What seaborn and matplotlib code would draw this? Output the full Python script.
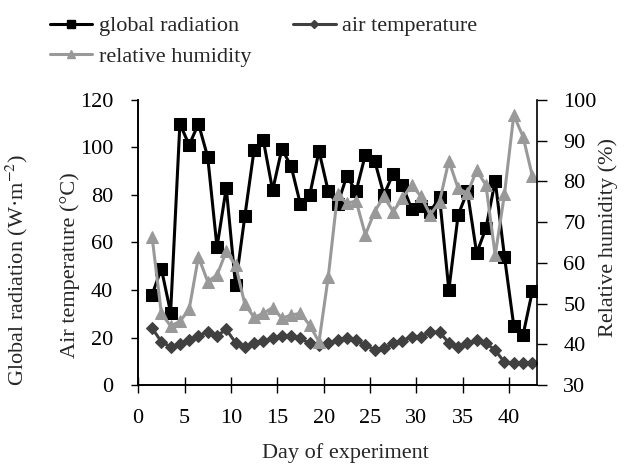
import numpy as np
import pandas as pd
import matplotlib
matplotlib.use("Agg")
import matplotlib.pyplot as plt
from matplotlib.lines import Line2D
import seaborn as sns

# day of experiment (points sit half a day right of the day number)
days = list(range(1, 43))

global_radiation = [38, 49, 30.5, 110, 101, 110, 96, 58, 83, 42, 71, 99, 103, 82, 99.5,
                    92, 76, 80, 98.5, 81.5, 76, 88, 81.5, 97, 94.5, 80, 89, 84, 74, 75.5,
                    73, 79, 40, 71.5, 81.5, 55.5, 66, 86, 54, 25, 21, 39.5]
air_temperature = [24, 18.2, 16.1, 17.4, 18.8, 20.7, 22.3, 20.7, 23.4, 17.8, 16.1, 17.5,
                   18.7, 19.6, 20.6, 20.6, 19.6, 17.5, 17, 17.5, 18.9, 19.9, 18.9, 16.8,
                   14.9, 15.5, 17.5, 18.7, 20.4, 20.4, 22.2, 22.2, 17.8, 16.1, 17.5, 18.9,
                   17.7, 14.6, 9.6, 9.1, 9.3, 9.2]
relative_humidity = [66.4, 47.6, 44.5, 45.6, 48.6, 61.5, 55.4, 57, 62.8, 59.5, 49.9, 46.6,
                     47.6, 49, 46.4, 47.2, 47.6, 44.7, 40.6, 56.6, 76.9, 74.6, 75.2, 66.9,
                     72.6, 76.3, 72.6, 75.9, 79.1, 76.3, 71.8, 75, 85.1, 78.3, 77.1, 82.7,
                     79.1, 61.9, 76.9, 96.3, 91, 81.4]

x_ticks = [0, 5, 10, 15, 20, 25, 30, 35, 40]
left_ticks = [0, 20, 40, 60, 80, 100, 120]
right_ticks = [30, 40, 50, 60, 70, 80, 90, 100]

df = pd.DataFrame({
    "day": np.array(days) + 0.5,
    "rad": global_radiation,
    "temp": air_temperature,
    "rh": relative_humidity,
})

sns.set_style("ticks")
plt.rcParams["font.family"] = ["Liberation Serif", "DejaVu Serif"]
plt.rcParams["mathtext.fontset"] = "stix"
FS = 16

BLACK = "#000000"
DARK = "#404040"
LIGHT = "#999999"

fig = plt.figure(figsize=(6.28, 4.65), dpi=100)
ax = fig.add_axes([0.22, 0.172, 0.635, 0.613])
ax2 = ax.twinx()

sns.lineplot(data=df, x="day", y="rad", ax=ax, color=BLACK, linewidth=2.2,
             marker="s", markersize=8, markeredgecolor=BLACK)
sns.lineplot(data=df, x="day", y="temp", ax=ax, color=DARK, linewidth=2.2,
             marker="D", markersize=6, markeredgecolor=DARK)
sns.lineplot(data=df, x="day", y="rh", ax=ax2, color=LIGHT, linewidth=2.2,
             marker="^", markersize=8, markeredgecolor=LIGHT)

ax.set_xlim(0, 43)
ax.set_ylim(0, 120)
ax2.set_ylim(30, 100)
ax.set_xticks(x_ticks)
ax.set_yticks(left_ticks)
ax2.set_yticks(right_ticks)
ax.set_xlabel("")
ax.set_ylabel("")
ax2.set_ylabel("")

for a in (ax, ax2):
    a.spines["top"].set_visible(False)
    for s in a.spines.values():
        s.set_linewidth(1.2)
        s.set_color("black")
ax.spines["right"].set_visible(False)

ax.tick_params(axis="x", direction="inout", length=12, width=1, pad=11, labelsize=FS, colors="black")
ax.tick_params(axis="y", direction="out", length=5, width=1, pad=13, labelsize=FS, colors="black")
ax2.tick_params(axis="y", direction="out", length=7, width=1, pad=12, labelsize=FS, colors="black")

fig.text(0.027, 0.42, r"Global radiation (W·m$^{-2}$)", rotation=90, ha="center", va="center", fontsize=FS)
fig.text(0.111, 0.43, "Air temperature (°C)", rotation=90, ha="center", va="center", fontsize=FS)
fig.text(0.968, 0.49, "Relative humidity (%)", rotation=90, ha="center", va="center", fontsize=FS)
fig.text(0.55, 0.026, "Day of experiment", ha="center", va="center", fontsize=FS)

handles = [
    Line2D([], [], color=BLACK, linewidth=2.2, marker="s", markersize=6),
    Line2D([], [], color=LIGHT, linewidth=2.2, marker="^", markersize=6),
    Line2D([], [], color=DARK, linewidth=2.2, marker="D", markersize=4),
]
labels = ["global radiation", "relative humidity", "air temperature"]
fig.legend(handles, labels, loc="upper left", bbox_to_anchor=(0.065, 0.985), ncol=2,
           frameon=False, fontsize=FS, handlelength=1.9, handletextpad=0.3,
           columnspacing=1.9, labelspacing=0.45, borderaxespad=0)

fig.savefig("out.png", dpi=100)
